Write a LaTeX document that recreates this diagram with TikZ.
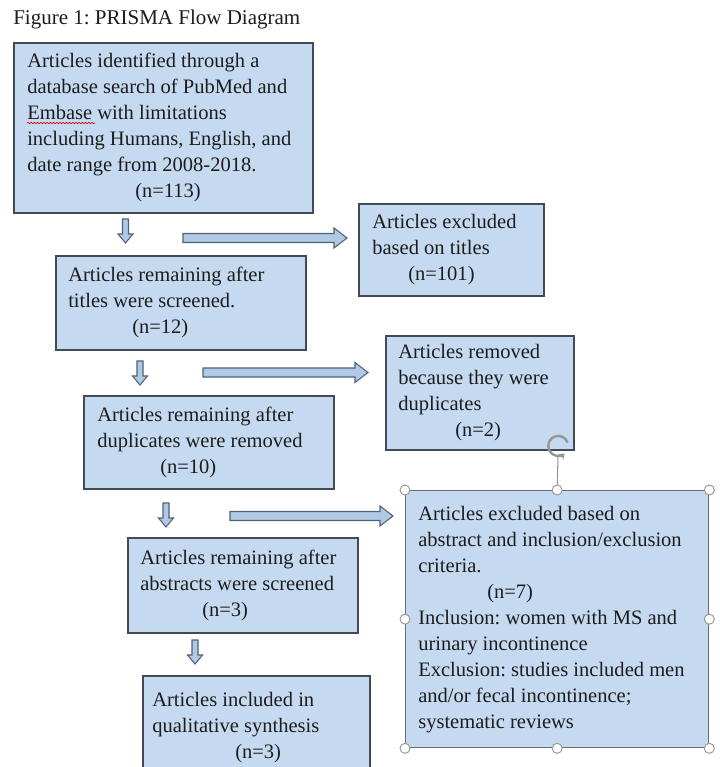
\documentclass[tikz,border=0pt]{standalone}
\usepackage{fontspec}
\setmainfont{Liberation Serif}
\usetikzlibrary{decorations.pathmorphing,arrows.meta}
\definecolor{boxfill}{RGB}{197,218,240}
\definecolor{boxline}{RGB}{68,74,84}
\definecolor{selline}{RGB}{105,110,118}
\definecolor{arrfill}{RGB}{176,201,228}
\definecolor{arrline}{RGB}{80,98,120}
\definecolor{txt}{RGB}{28,28,28}
\definecolor{hdl}{RGB}{150,150,150}
\tikzset{
  mainfont/.style={font=\fontsize{15.75pt}{19.5pt}\selectfont\frenchspacing, text=txt},
  bodyfont/.style={font=\fontsize{15.4pt}{19.5pt}\selectfont\frenchspacing, text=txt},
  box/.style={draw=boxline, line width=1.3pt, fill=boxfill, anchor=north west, inner sep=0pt},
  selbox/.style={box, draw=selline, line width=1pt},
  boxtext/.style={bodyfont, align=left, anchor=west, inner sep=0pt},
  handle/.style={circle, draw=hdl, fill=white, line width=0.7pt, minimum size=7.5pt, inner sep=0pt},
  darr/.pic={\draw[draw=arrline, fill=arrfill, line width=0.8pt]
     (-3,0) -- (3,0) -- (3,15) -- (7.5,15) -- (0,24) -- (-7.5,15) -- (-3,15) -- cycle;},
  rarr/.pic={\draw[draw=arrline, fill=arrfill, line width=0.8pt]
     (0,-4.5) -- ({#1-13},-4.5) -- ({#1-13},-10) -- (#1,0) -- ({#1-13},10) -- ({#1-13},4.5) -- (0,4.5) -- cycle;}
}
\begin{document}
\begin{tikzpicture}[x=0.75pt,y=-0.75pt]
\useasboundingbox (0,0) rectangle (719,767);
\fill[white] (0,0) rectangle (719,767);

\node[mainfont, anchor=base west, inner sep=0pt] (title) at (13,25) {Figure 1: PRISMA Flow Diagram};

% main column boxes
\node[box, minimum width=224.25pt, minimum height=127.5pt] (b1) at (13,42) {};
\node[box, minimum width=187.5pt, minimum height=70.5pt] (b2) at (55,255) {};
\node[box, minimum width=187.5pt, minimum height=69.75pt] (b3) at (83,395) {};
\node[box, minimum width=172.5pt, minimum height=71.25pt] (b4) at (127,537) {};
\node[box, minimum width=170.25pt, minimum height=78pt] (b6) at (142,675) {};
% side column boxes
\node[box, minimum width=138.75pt, minimum height=69pt] (bt) at (358,203) {};
\node[box, minimum width=141pt, minimum height=85.5pt] (bd) at (385,335) {};
\node[selbox, minimum width=227.25pt, minimum height=192.75pt] (b5) at (405,490) {};

% texts
\node[boxtext] (b1t) at ([xshift=10.5pt]b1.west)
 {Articles identified through a\\ database search of PubMed and\\ Embase with limitations\\ including Humans, English, and\\ date range from 2008-2018.\\ \hspace*{81pt}(n=113)};
\node[boxtext] (b2t) at ([xshift=9.75pt]b2.west)
 {Articles remaining after\\ titles were screened.\\ \hspace*{48pt}(n=12)};
\node[boxtext] (b3t) at ([xshift=10.5pt]b3.west)
 {Articles remaining after\\ duplicates were removed\\ \hspace*{47.25pt}(n=10)};
\node[boxtext] (b4t) at ([xshift=9.75pt]b4.west)
 {Articles remaining after\\ abstracts were screened\\ \hspace*{46.5pt}(n=3)};
\node[boxtext] (b6t) at ([xshift=7.5pt]b6.west)
 {Articles included in\\ qualitative synthesis\\ \hspace*{62.25pt}(n=3)};
\node[boxtext] (btt) at ([xshift=10.5pt]bt.west)
 {Articles excluded\\ based on titles\\ \hspace*{27pt}(n=101)};
\node[boxtext] (bdt) at ([xshift=9.75pt]bd.west)
 {Articles removed\\ because they were\\ duplicates\\ \hspace*{42.75pt}(n=2)};
\node[boxtext] (b5t) at ([xshift=9.75pt]b5.west)
 {Articles excluded based on\\ abstract and inclusion/exclusion\\ criteria.\\ \hspace*{51.75pt}(n=7)\\ Inclusion: women with MS and\\ urinary incontinence\\ Exclusion: studies included men\\ and/or fecal incontinence;\\ systematic reviews};

% spell-check squiggle
\draw[red!85!black, line width=0.5pt, decorate, decoration={snake, amplitude=0.5pt, segment length=2.4pt}] (27,123) -- (95,123);

% down arrows
\pic (d1) at (125.5,219) {darr};
\pic (d2) at (140,361) {darr};
\pic (d3) at (166,503) {darr};
\pic (d4) at (195,640) {darr};

% right arrows
\pic (r1) at (183,238) {rarr=164};
\pic (r2) at (203,372.5) {rarr=165};
\pic (r3) at (230,516) {rarr=163};

% selection handles of box b5
\node[circle, inner sep=0pt, minimum size=15pt] (rot) at (558,446) {};
\draw[hdl, line width=0.8pt] (rot.south) -- (b5.north);
\draw[hdl, line width=1.8pt, -{Stealth[length=4pt,width=6pt]}] (rot.20) arc[start angle=20, end angle=310, radius=7.5pt];
\foreach \a/\n in {north west/h1, north/h2, north east/h3, west/h4, east/h5, south west/h6, south/h7, south east/h8}
  \node[handle] (\n) at (b5.\a) {};
\end{tikzpicture}
\end{document}
